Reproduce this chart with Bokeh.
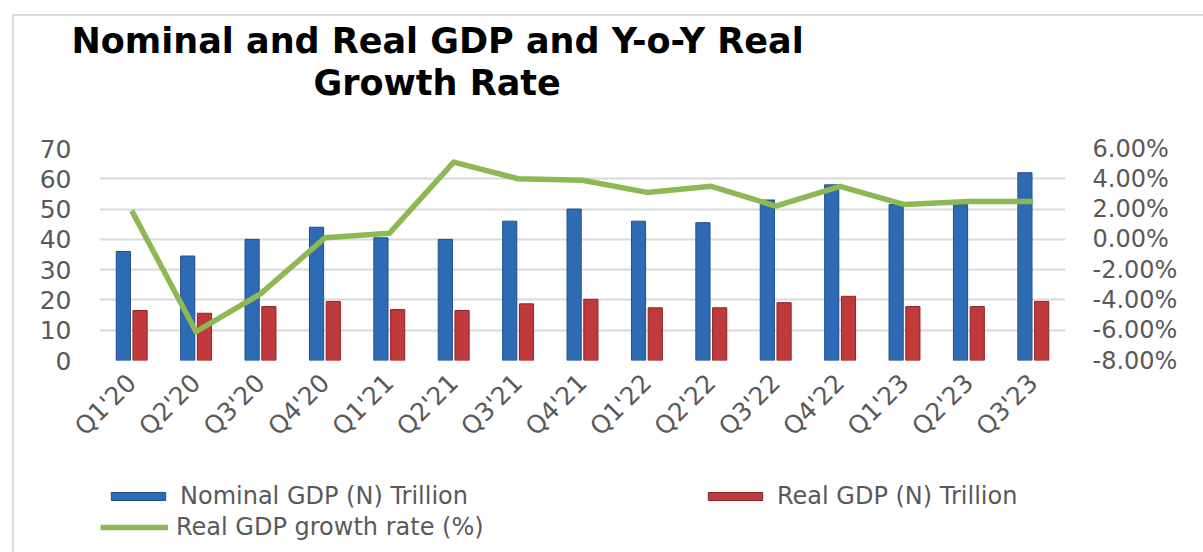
import math
from bokeh.plotting import figure
from bokeh.layouts import column
from bokeh.models import (ColumnDataSource, FactorRange, Range1d, LinearAxis, SingleIntervalTicker,
                          PrintfTickFormatter, Legend, LegendItem, Title)
from bokeh.transform import dodge
from bokeh.embed import file_html
from bokeh.resources import INLINE

quarters = ["Q1'20", "Q2'20", "Q3'20", "Q4'20", "Q1'21", "Q2'21", "Q3'21", "Q4'21",
            "Q1'22", "Q2'22", "Q3'22", "Q4'22", "Q1'23", "Q2'23", "Q3'23"]
nominal_gdp = [36, 34.5, 40, 44, 40.5, 40, 46, 50, 46, 45.5, 53, 58, 51.5, 51.5, 62]
real_gdp = [16.5, 15.6, 17.8, 19.5, 16.8, 16.5, 18.7, 20.2, 17.4, 17.4, 19.1, 21.2, 17.8, 17.8, 19.5]
growth_rate = [1.9, -6.1, -3.6, 0.1, 0.4, 5.1, 4.0, 3.9, 3.1, 3.5, 2.2, 3.5, 2.3, 2.5, 2.5]
series_names = ["Nominal GDP (N) Trillion", "Real GDP (N) Trillion", "Real GDP growth rate (%)"]
left_ticks_interval = 10
right_ticks_interval = 2

src = ColumnDataSource(dict(q=quarters, nom=nominal_gdp, real=real_gdp, gr=growth_rate))

FONT = "DejaVu Sans"
GRAY = "#595959"
BLUE, BLUE_EDGE = "#2E6BB5", "#1F4E8C"
RED, RED_EDGE = "#C0393B", "#8E2325"
GREEN = "#8DB853"
LINE_BG = "linear-gradient(#D9D9D9,#D9D9D9)"

# ---------------- main chart ----------------
p = figure(width=1203, height=460, x_range=FactorRange(factors=quarters), y_range=Range1d(0, 70),
           output_backend="svg", toolbar_location=None,
           min_border_left=99, min_border_right=138, min_border_top=148, min_border_bottom=100)
p.extra_y_ranges = {"pct": Range1d(-8, 6)}
p.outline_line_color = None
p.background_fill_color = "white"
p.border_fill_alpha = 0
p.title.visible = False
p.styles = {"background": f"{LINE_BG} 12px 14px / 2px 100% no-repeat, "
                          f"{LINE_BG} 12px 14px / 100% 2px no-repeat, white"}

p.yaxis.ticker = SingleIntervalTicker(interval=left_ticks_interval)
ax = p.yaxis[0]
ax.axis_line_color = None
ax.major_tick_line_color = None
ax.minor_tick_line_color = None
ax.major_tick_out = 0
ax.major_label_text_font = FONT
ax.major_label_text_font_size = "25px"
ax.major_label_text_color = GRAY
ax.major_label_standoff = 24

right = LinearAxis(y_range_name="pct", ticker=SingleIntervalTicker(interval=right_ticks_interval),
                   formatter=PrintfTickFormatter(format="%.2f%%"))
right.axis_line_color = None
right.major_tick_line_color = None
right.minor_tick_line_color = None
right.major_tick_out = 0
right.major_label_text_font = FONT
right.major_label_text_font_size = "24px"
right.major_label_text_color = GRAY
right.major_label_standoff = 23
p.add_layout(right, "right")

xa = p.xaxis[0]
xa.axis_line_color = None
xa.major_tick_line_color = None
xa.minor_tick_line_color = None
xa.major_tick_out = 0
xa.major_label_orientation = math.pi / 4
xa.major_label_text_font = FONT
xa.major_label_text_font_size = "25px"
xa.major_label_text_color = GRAY
xa.major_label_standoff = 18

p.xgrid.grid_line_color = None
p.ygrid.grid_line_color = "#D9D9D9"
p.ygrid.grid_line_width = 2

p.vbar(x=dodge("q", -0.13, range=p.x_range), top="nom", width=0.22, source=src,
       fill_color=BLUE, line_color=BLUE_EDGE, line_width=1)
p.vbar(x=dodge("q", 0.13, range=p.x_range), top="real", width=0.22, source=src,
       fill_color=RED, line_color=RED_EDGE, line_width=1)
p.line(x="q", y="gr", y_range_name="pct", source=src, line_color=GREEN, line_width=5.5, line_join="round")

# title: panels stack outward from the frame (spacer, line 2, line 1)
p.add_layout(Title(text=" ", standoff=33, text_font_size="10px"), "above")
p.add_layout(Title(text="Growth Rate", align="left", offset=214, standoff=0, text_font=FONT,
                   text_font_style="bold", text_font_size="35px", text_color="black"), "above")
p.add_layout(Title(text="Nominal and Real GDP and Y-o-Y Real", align="left", offset=-28, standoff=0,
                   text_font=FONT, text_font_style="bold", text_font_size="35px", text_color="black"), "above")

# ---------------- legend strip (its frame is aligned with the chart's frame: x from 99 to 1065) ----------------
lg = figure(width=1203, height=92, x_range=Range1d(0, 1), y_range=Range1d(0, 1),
            output_backend="svg", toolbar_location=None, x_axis_location=None, y_axis_location=None,
            min_border=0)
lg.outline_line_color = None
lg.background_fill_alpha = 0
lg.border_fill_alpha = 0
lg.grid.visible = False
lg.title.visible = False
lg.styles = {"background": f"{LINE_BG} 12px 0px / 2px 100% no-repeat, white"}

# legend-only renderers: their single segment lies outside the visible range
swatch = ColumnDataSource(dict(x=[-3, -2], top=[-3, -2]))
r_nom = lg.vbar(x="x", top="top", width=0.1, source=swatch, fill_color=BLUE, line_color=BLUE_EDGE)
r_real = lg.vbar(x="x", top="top", width=0.1, source=swatch, fill_color=RED, line_color=RED_EDGE)
r_gr = lg.line(x="x", y="top", source=swatch, line_color=GREEN, line_width=5.5)

common = dict(border_line_color=None, background_fill_alpha=0, label_text_font=FONT,
              label_text_font_size="24px", label_text_color=GRAY, glyph_width=68, glyph_height=10,
              label_standoff=8, label_height=25, padding=0, margin=0)
lg.add_layout(Legend(items=[LegendItem(label=series_names[0], renderers=[r_nom]),
                            LegendItem(label=series_names[1], renderers=[r_real])],
                     orientation="horizontal", spacing=233, label_width=287,
                     location=(5, 42), **common), "center")
lg.add_layout(Legend(items=[LegendItem(label=series_names[2], renderers=[r_gr])],
                     orientation="vertical", location=(1, 11), **common), "center")

layout = column(p, lg, spacing=0)
open("out.html", "w").write(file_html(layout, INLINE))
